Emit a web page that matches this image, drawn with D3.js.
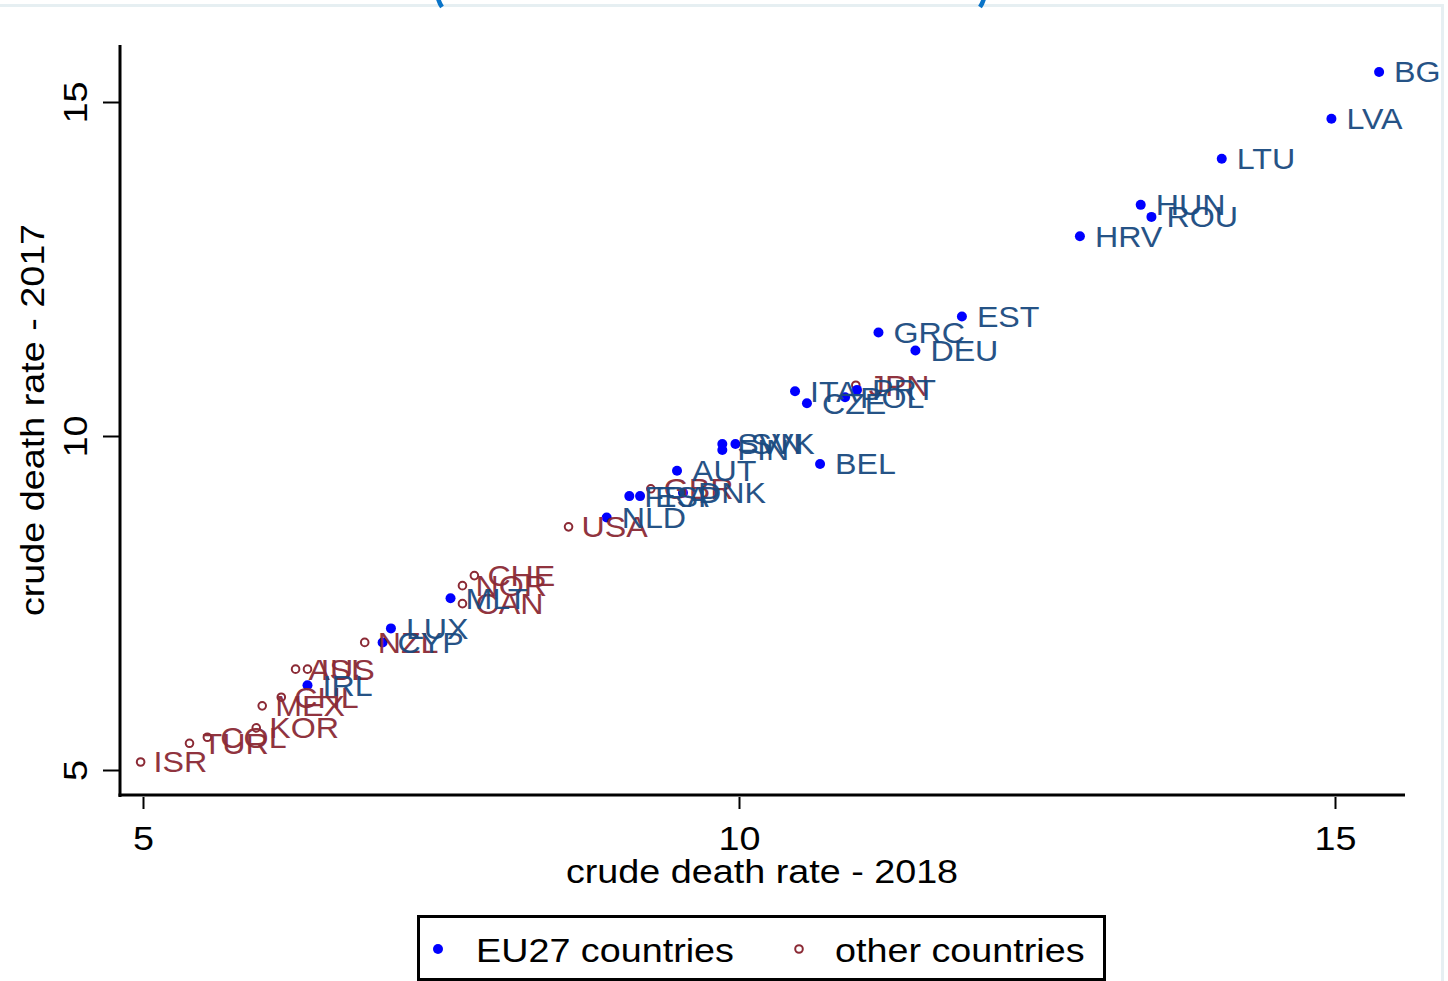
<!DOCTYPE html>
<html><head><meta charset="utf-8">
<script src="https://cdn.jsdelivr.net/npm/d3@7"></script>
<style>
html,body{margin:0;padding:0;background:#fff;}
svg{display:block;}
text{font-family:"Liberation Sans",Arial,sans-serif;}
</style></head>
<body>
<script>
// EU27 countries: crude death rate 2018 (x) vs 2017 (y)
const euCodes = ["BGR","LVA","LTU","HUN","ROU","HRV","EST","GRC","DEU","ITA","CZE","POL","PRT","BEL","SVK","SVN","FIN","AUT","DNK","FRA","ESP","NLD","MLT","LUX","CYP","IRL"];
const eu2018  = [15.37,14.97,14.05,13.37,13.46,12.86,11.87,11.17,11.48,10.47,10.57,10.89,10.99,10.68,9.97,9.86,9.86,9.48,9.53,9.08,9.17,8.89,7.58,7.08,7.01,6.38];
const eu2017  = [15.45,14.75,14.15,13.46,13.28,12.99,11.79,11.55,11.28,10.67,10.49,10.58,10.69,9.58,9.88,9.88,9.79,9.48,9.15,9.10,9.10,8.78,7.57,7.12,6.91,6.27];
// Other countries
const othCodes = ["JPN","GBR","USA","CHE","NOR","CAN","NZL","AUS","ISL","CHL","MEX","KOR","COL","TUR","ISR"];
const oth2018  = [10.98,9.26,8.57,7.78,7.68,7.68,6.86,6.28,6.38,6.16,6.00,5.95,5.54,5.39,4.98];
const oth2017  = [10.76,9.21,8.64,7.91,7.76,7.49,6.91,6.51,6.51,6.09,5.96,5.63,5.49,5.40,5.12];
const xTicks = [5,10,15];
const yTicks = [5,10,15];
const xTitle = "crude death rate - 2018";
const yTitle = "crude death rate - 2017";
const legendLabels = ["EU27 countries","other countries"];

const W = 1448, H = 981;
const SX = 1.11; // horizontal glyph stretch
const svg = d3.select("body").append("svg").attr("width",W).attr("height",H);

// frame remnants at top / right
svg.append("rect").attr("x",0).attr("y",4).attr("width",1444).attr("height",3).attr("fill","#e6eff2");
svg.append("rect").attr("x",1441).attr("y",4).attr("width",3).attr("height",H).attr("fill","#e6eff2");
svg.append("path").attr("d","M436,-14 Q437,0 442,7").attr("fill","none").attr("stroke","#0a74c8").attr("stroke-width",4.5);
svg.append("path").attr("d","M986,-14 Q985,0 980,7").attr("fill","none").attr("stroke","#0a74c8").attr("stroke-width",4.5);

const x = d3.scaleLinear().domain([5,15]).range([143,1335]);
const y = d3.scaleLinear().domain([5,15]).range([770,102]);

function txt(g, tx, ty, rot, s, size, fill, anchor, baseline){
  const t = g.append("text")
    .attr("transform", `translate(${tx},${ty}) rotate(${rot}) scale(${SX},1)`)
    .attr("font-size", size).attr("fill", fill)
    .attr("text-anchor", anchor||"start");
  if (baseline) t.attr("dy", baseline);
  t.text(s);
  return t;
}

// axes
svg.append("line").attr("x1",120).attr("x2",120).attr("y1",45).attr("y2",797).attr("stroke","#000").attr("stroke-width",3);
svg.append("line").attr("x1",118.5).attr("x2",1405).attr("y1",795).attr("y2",795).attr("stroke","#000").attr("stroke-width",3);

const xAxis = d3.axisBottom(x).tickValues(xTicks).tickSize(12).tickFormat(d3.format("d"));
const gx = svg.append("g").attr("transform","translate(0,797)").call(xAxis);
gx.select(".domain").remove();
gx.selectAll(".tick line").attr("stroke","#000").attr("stroke-width",2);
gx.selectAll(".tick text").remove();
gx.selectAll(".tick").each(function(d){
  txt(d3.select(this), 0, 41, 0, d3.format("d")(d), 34, "#000", "middle", "0.36em");
});

const yAxis = d3.axisLeft(y).tickValues(yTicks).tickSize(16).tickFormat(d3.format("d"));
const gy = svg.append("g").attr("transform","translate(119,0)").call(yAxis);
gy.select(".domain").remove();
gy.selectAll(".tick line").attr("stroke","#000").attr("stroke-width",2);
gy.selectAll(".tick text").remove();
gy.selectAll(".tick").each(function(d){
  txt(d3.select(this), -44, 0, -90, d3.format("d")(d), 34, "#000", "middle", "0.36em");
});

txt(svg, 762, 871, 0, xTitle, 34, "#000", "middle", "0.36em");
txt(svg, 32, 420, -90, yTitle, 34, "#000", "middle", "0.36em");

// clip for labels
svg.append("clipPath").attr("id","clipR").append("rect").attr("x",0).attr("y",0).attr("width",1441).attr("height",H);

const euColor = "#0000ff", euLab = "#1a4a80";
const othColor = "#8b2a35", othLab = "#8b2a35";

const euData = euCodes.map((c,i)=>({c, x:eu2018[i], y:eu2017[i]}));
const othData = othCodes.map((c,i)=>({c, x:oth2018[i], y:oth2017[i]}));

const gm = svg.append("g").attr("clip-path","url(#clipR)");
gm.selectAll("circle.oth").data(othData).enter().append("circle")
  .attr("cx",d=>x(d.x)).attr("cy",d=>y(d.y)).attr("r",3.8)
  .attr("fill","none").attr("stroke",othColor).attr("stroke-width",2);
gm.selectAll("circle.eu").data(euData).enter().append("circle")
  .attr("cx",d=>x(d.x)).attr("cy",d=>y(d.y)).attr("r",5)
  .attr("fill",euColor);
othData.forEach(d=>{
  txt(gm, x(d.x)+13, y(d.y), 0, d.c, 29, othLab, "start", "0.36em").attr("opacity",0.95);
});
euData.forEach(d=>{
  txt(gm, x(d.x)+15, y(d.y), 0, d.c, 29, euLab, "start", "0.36em").attr("opacity",0.95);
});

// legend
svg.append("rect").attr("x",418.5).attr("y",916.5).attr("width",686).attr("height",63).attr("fill","#fff").attr("stroke","#000").attr("stroke-width",3);
svg.append("circle").attr("cx",438).attr("cy",949).attr("r",5).attr("fill",euColor);
txt(svg, 476, 950, 0, legendLabels[0], 34, "#000", "start", "0.36em");
svg.append("circle").attr("cx",799).attr("cy",949).attr("r",3.8).attr("fill","none").attr("stroke",othColor).attr("stroke-width",2);
txt(svg, 835, 950, 0, legendLabels[1], 34, "#000", "start", "0.36em");
</script>
</body></html>
